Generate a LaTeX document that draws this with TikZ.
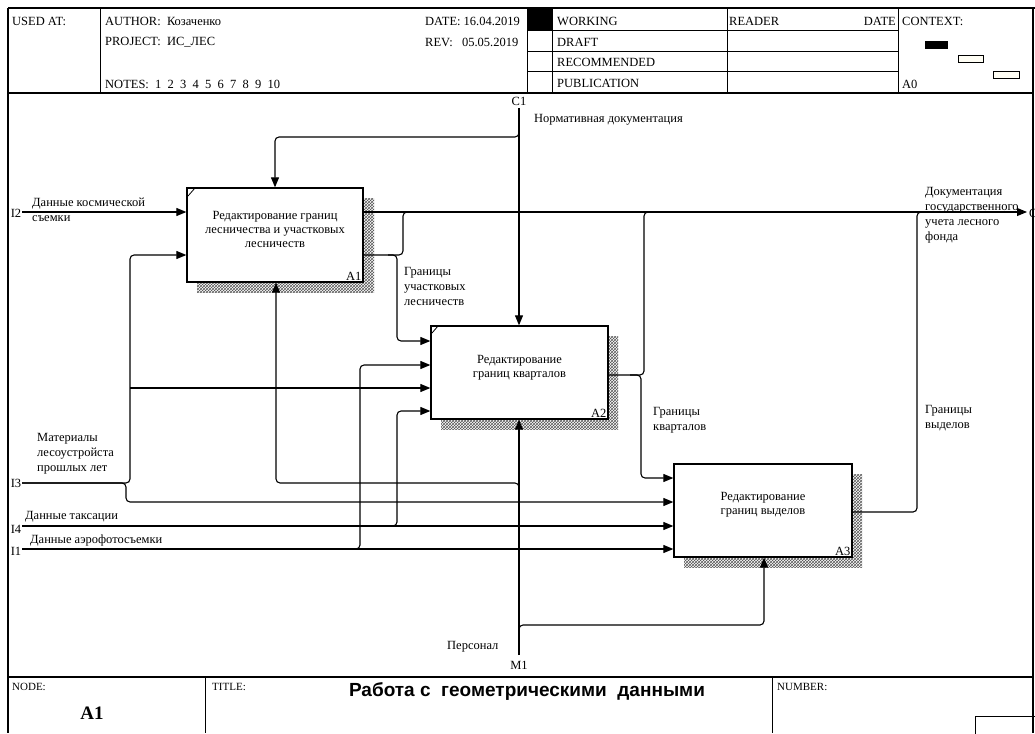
\documentclass[tikz,border=0pt]{standalone}
\usepackage{fontspec}
\setmainfont{Liberation Serif}
\newfontfamily\sansf{Liberation Sans}
\usetikzlibrary{arrows.meta,patterns}
\begin{document}
\begin{tikzpicture}[x=1pt,y=-1pt,
  every node/.style={font=\fontsize{12.5}{14}\selectfont, inner sep=0pt},
  frame/.style={line width=1.2pt},
  hl/.style={line width=1pt},
  box/.style={draw, line width=1.3pt, fill=white, inner sep=0pt},
  shadowfill/.style={pattern=crosshatch, pattern color=black!65},
  conn/.style={draw, line width=1.1pt, rounded corners=4pt},
  arr/.style={conn, -{Triangle[length=10pt,width=8pt]}},
  lbl/.style={align=left, font=\fontsize{12.5}{15}\selectfont, anchor=north west},
  hdr/.style={anchor=west},
  small/.style={anchor=west, font=\fontsize{11}{13}\selectfont},
  ctx/.style={draw, line width=0.9pt, fill=yellow!4}]

\useasboundingbox (0,0) rectangle (1035,733);
\fill[white] (0,0) rectangle (1035,733);

% ---------- header texts ----------
\node[hdr] (usedat) at (12,21) {USED AT:};
\node[hdr] (author) at (105,21) {AUTHOR:\ \ Козаченко};
\node[hdr] (project) at (105,42) {PROJECT:\ \ ИС\_ЛЕС};
\node[hdr] (notes) at (105,84) {NOTES:\ \ 1\ \ 2\ \ 3\ \ 4\ \ 5\ \ 6\ \ 7\ \ 8\ \ 9\ \ 10};
\node[hdr] (date) at (425,21) {DATE:\ 16.04.2019};
\node[hdr] (rev) at (425,42) {REV:\ \ \ 05.05.2019};
\node[hdr] (working) at (557,21) {WORKING};
\node[hdr] (draft) at (557,42) {DRAFT};
\node[hdr] (recom) at (557,62) {RECOMMENDED};
\node[hdr] (publ) at (557,83) {PUBLICATION};
\node[hdr] (reader) at (729,21) {READER};
\node[anchor=east] (rdate) at (896,21) {DATE};
\node[hdr] (context) at (902,21) {CONTEXT:};
\node[hdr] (a0) at (902,84) {A0};

% ---------- frame ----------
\fill[white] (527,8) rectangle (552,93);
\draw[frame] (8,8) -- (1035,8);
\draw[frame] (8,8) -- (8,733);
\draw[frame] (1033,8) -- (1033,733);
\draw[frame] (8,93) -- (1033,93);
\draw[frame] (8,677) -- (1033,677);
\draw[hl] (100,8) -- (100,93);
\draw[hl] (527,8) -- (527,93);
\draw[hl] (552,8) -- (552,93);
\draw[hl] (727,8) -- (727,93);
\draw[hl] (898,8) -- (898,93);
\foreach \yy in {31,52,72} \draw[hl] (527,\yy) -- (898,\yy);
\fill[black] (527,8) rectangle (552,31);
\fill[black] (925,41) rectangle (948,49);
\draw[ctx] (958,55) rectangle (983,62);
\draw[ctx] (993,71) rectangle (1019,78);
\draw[hl] (205,677) -- (205,733);
\draw[hl] (772,677) -- (772,733);
\draw[hl] (975,716) rectangle (1045,745);

% ---------- bottom texts ----------
\node[small] (lnode) at (12,687) {NODE:};
\node[font=\fontsize{19}{22}\selectfont\bfseries] (lnodea) at (92,713) {A1};
\node[small] (ltitle) at (212,687) {TITLE:};
\node[font=\sansf\bfseries\fontsize{19}{22}\selectfont] (ltt) at (527,691) {Работа с\ \ геометрическими\ \ данными};
\node[small] (lnum) at (777,687) {NUMBER:};

% ---------- shadows ----------
\fill[shadowfill] (197,198) rectangle (374,292);
\fill[shadowfill] (441,336) rectangle (618,429);
\fill[shadowfill] (684,474) rectangle (862,567);

% ---------- boxes ----------
\node[box, minimum width=176, minimum height=94] (A1) at (275,235) {};
\node[box, minimum width=177, minimum height=93] (A2) at (519.5,372.5) {};
\node[box, minimum width=178, minimum height=93] (A3) at (763,510.5) {};
\draw[line width=0.8pt] (188,196) -- (195,188);
\draw[line width=0.8pt] (432,333) -- (438,326);
\node[align=center] (A1t) at (275,229) {Редактирование границ\\лесничества и участковых\\лесничеств};
\node[align=center] (A2t) at (519.5,368) {Редактирование\\границ кварталов};
\node[align=center] (A3t) at (763,505) {Редактирование\\границ выделов};
\node[anchor=south east] (A1n) at ([shift={(-2,-2)}]A1.south east) {A1};
\node[anchor=south east] (A2n) at ([shift={(-2,-2)}]A2.south east) {A2};
\node[anchor=south east] (A3n) at ([shift={(-2,-2)}]A3.south east) {A3};

% ---------- coordinates ----------
\coordinate (c1) at (519,108);
\coordinate (c1j) at (519,131);
\coordinate (i2) at (22,212);
\coordinate (o1) at (1027,212);
\coordinate (i3) at (22,483);
\coordinate (i4) at (22,526);
\coordinate (i1) at (22,549);
\coordinate (m1) at (519,655);
\coordinate (m1a) at (519,632);
\coordinate (m1b) at (519,491);
\coordinate (j12) at (388,255);
\coordinate (j23) at (630,375);
\coordinate (j4) at (386,526);
\coordinate (j1) at (350,549);
\coordinate (j3) at (130,388);

% ---------- connectors ----------
\draw[arr] (c1) -- (c1 |- A2.north);
\draw[arr] (c1j) |- (275,137) -- (275,0 |- A1.north);
\draw[arr] (i2) -- (i2 -| A1.west);
\draw[arr] (A1.east |- o1) -- (o1);
\draw[arr] (A1.east |- j12) -| (397,341) -- (A2.west |- 0,341);
\draw[conn] (j12) -| (403,212) -- (411,212);
\draw[arr] (A2.east |- j23) -| (641,478) -- (A3.west |- 0,478);
\draw[conn] (j23) -| (644,212) -- (652,212);
\draw[conn] (A3.east |- 0,512) -| (917,212) -- (925,212);
\draw[arr] (i3) -| (130,255) -- (A1.west |- 0,255);
\draw[arr] (j3) -- (A2.west |- j3);
\draw[arr] (i3) -| (126,502) -- (A3.west |- 0,502);
\draw[arr] (i4) -- (i4 -| A3.west);
\draw[arr] (j4) -| (397,411) -- (A2.west |- 0,411);
\draw[arr] (i1) -- (i1 -| A3.west);
\draw[arr] (j1) -| (360,365) -- (A2.west |- 0,365);
\draw[arr] (m1) -- (m1 |- A2.south);
\draw[arr] (m1a) |- (764,625) -- (764,0 |- A3.south);
\draw[arr] (m1b) |- (276,483) -- (276,0 |- A1.south);

% ---------- labels ----------
\node (lc1) at (519,101) {C1};
\node[anchor=west] (lnd) at (534,120) {Нормативная документация};
\node (li2) at (16,213) {I2};
\node[lbl] (ldk) at (32,198) {Данные космической\\съемки};
\node[anchor=west] (lo1) at (1029,213) {O1};
\node[lbl] (ldoc) at (925,187) {Документация\\государственного\\учета лесного\\фонда};
\node[lbl] (lgu) at (404,267) {Границы\\участковых\\лесничеств};
\node[lbl] (lgk) at (653,407) {Границы\\кварталов};
\node[lbl] (lgv) at (925,405) {Границы\\выделов};
\node[lbl] (lmat) at (37,433) {Материалы\\лесоустройста\\прошлых лет};
\node (li3) at (16,483) {I3};
\node[anchor=west] (ltax) at (25,517) {Данные таксации};
\node (li4) at (16,529) {I4};
\node[anchor=west] (laero) at (30,540) {Данные аэрофотосъемки};
\node (li1) at (16,551) {I1};
\node[anchor=west] (lpers) at (447,647) {Персонал};
\node (lm1) at (519,665) {M1};
\end{tikzpicture}
\end{document}
